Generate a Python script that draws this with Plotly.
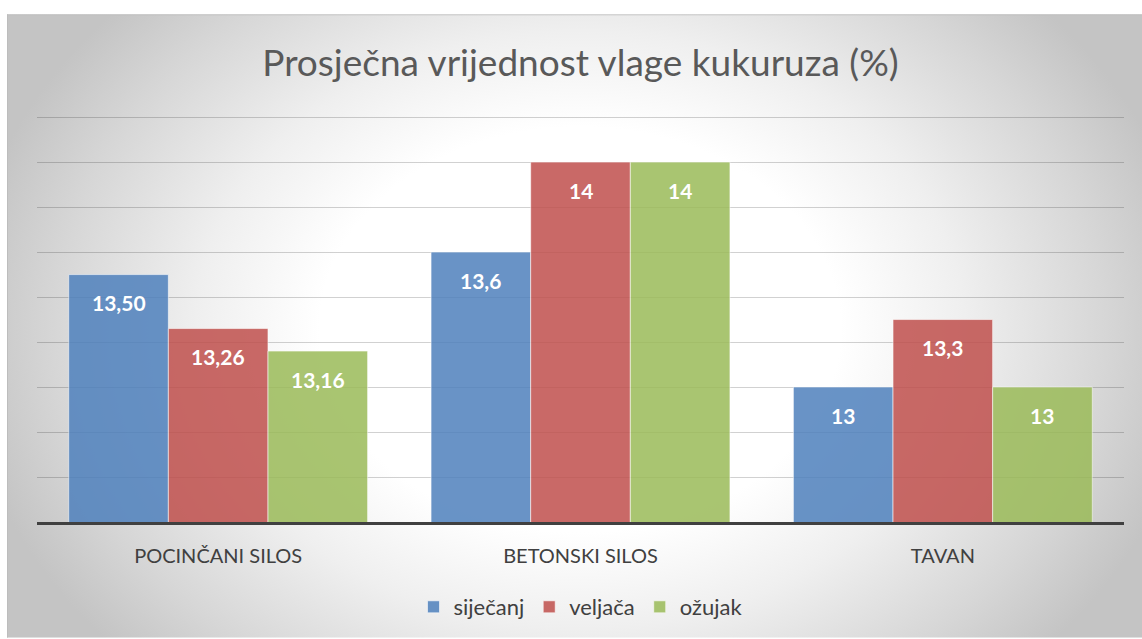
import base64
import plotly.graph_objects as go

# ---- data ----
categories = ["POCINČANI SILOS", "BETONSKI SILOS", "TAVAN"]
series_names = ["siječanj", "veljača", "ožujak"]
sijecanj = [13.50, 13.6, 13.0]
veljaca = [13.26, 14.0, 13.3]
ozujak = [13.16, 14.0, 13.0]
sijecanj_labels = ["13,50", "13,6", "13"]
veljaca_labels = ["13,26", "14", "13,3"]
ozujak_labels = ["13,16", "14", "13"]
title_text = "Prosječna vrijednost vlage kukuruza (%)"

values = [sijecanj, veljaca, ozujak]
labels = [sijecanj_labels, veljaca_labels, ozujak_labels]
colors = ["#4F81BD", "#C0504D", "#9BBB59"]

W, H = 1142, 639
ml, mr, mt, mb = 37, 18, 116, 116
pw, ph = W - ml - mr, H - mt - mb
bargap = 0.175
FONT = "Lato"

fig = go.Figure()
for name, vals, col in zip(series_names, values, colors):
    fig.add_trace(go.Bar(
        x=categories, y=vals, name=name,
        marker=dict(color=col, line=dict(color="rgba(255,255,255,0.6)", width=1)),
        opacity=0.85,
    ))

# data labels
bw = (1 - bargap) / len(series_names)
annotations = []
for i, (vals, labs) in enumerate(zip(values, labels)):
    for j, (v, t) in enumerate(zip(vals, labs)):
        annotations.append(dict(
            x=j + (i - 1) * bw, y=v, xref="x", yref="y",
            text="<b>" + t + "</b>", showarrow=False,
            yanchor="middle", yshift=-28,
            font=dict(family=FONT, size=21, color="white"),
        ))

# background: radial gradient box
bx0, by0 = 7, 14
bwid, bhei = W - bx0, H - by0
svg = f'''<svg xmlns="http://www.w3.org/2000/svg" width="{bwid}" height="{bhei}" viewBox="0 0 {bwid} {bhei}" preserveAspectRatio="none">
<defs><radialGradient id="g" gradientUnits="userSpaceOnUse" cx="573" cy="316" r="620" gradientTransform="translate(573 316) scale(1 0.78) translate(-573 -316)">
<stop offset="0" stop-color="#ffffff"/>
<stop offset="0.42" stop-color="#ffffff"/>
<stop offset="0.62" stop-color="#efefef"/>
<stop offset="0.85" stop-color="#d6d6d6"/>
<stop offset="1" stop-color="#c4c4c4"/>
</radialGradient></defs>
<rect width="{bwid}" height="{bhei}" fill="url(#g)"/>
<line x1="0" y1="0.5" x2="{bwid}" y2="0.5" stroke="#bdbdbd" stroke-width="1"/>
<line x1="0.5" y1="0" x2="0.5" y2="{bhei}" stroke="#bdbdbd" stroke-width="1"/>
</svg>'''
src = "data:image/svg+xml;base64," + base64.b64encode(svg.encode()).decode()

fig.update_layout(
    width=W, height=H,
    margin=dict(l=ml, r=mr, t=mt, b=mb, pad=0),
    paper_bgcolor="white",
    plot_bgcolor="rgba(0,0,0,0)",
    barmode="group", bargap=bargap, bargroupgap=0,
    title=dict(text=title_text, x=0.5, xanchor="center", xref="paper",
               y=1 - 63 / H, yanchor="middle",
               font=dict(family=FONT, size=37, color="#595959")),
    legend=dict(orientation="h", x=0.5, xanchor="center",
                y=-(607 - (H - mb)) / ph, yanchor="middle",
                font=dict(family=FONT, size=22, color="#404040"),
                bgcolor="rgba(0,0,0,0)", itemwidth=30),
    annotations=annotations,
    images=[dict(source=src, xref="paper", yref="paper",
                 x=(bx0 - ml) / pw, y=(H - mb - by0) / ph,
                 sizex=bwid / pw, sizey=bhei / ph,
                 xanchor="left", yanchor="top", sizing="stretch", layer="below")],
    font=dict(family=FONT, color="#404040"),
)
fig.update_xaxes(showline=True, linecolor="#404040", linewidth=3, ticks="",
                 tickfont=dict(family=FONT, size=20, color="#404040"),
                 ticklabelstandoff=14, showgrid=False)
fig.update_yaxes(range=[12.4, 14.205], tick0=12.4, dtick=0.2, showticklabels=False,
                 showgrid=True, gridcolor="rgba(0,0,0,0.18)", gridwidth=1,
                 zeroline=False, showline=False, ticks="")

fig.write_html("out.html", config={"displayModeBar": False},
               post_script="document.body.style.margin='0';")
